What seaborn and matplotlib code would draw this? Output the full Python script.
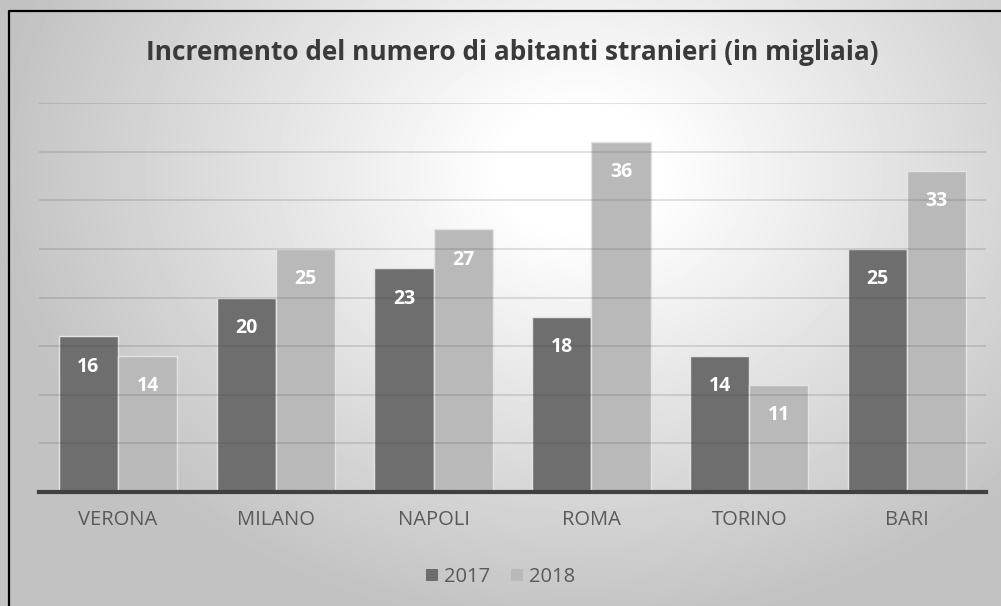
import numpy as np
import pandas as pd
import matplotlib
matplotlib.use("Agg")
import matplotlib.pyplot as plt
import seaborn as sns

cities = ["VERONA", "MILANO", "NAPOLI", "ROMA", "TORINO", "BARI"]
values_2017 = [16, 20, 23, 18, 14, 25]
values_2018 = [14, 25, 27, 36, 11, 33]
years = ["2017", "2018"]

df = pd.DataFrame({
    "city": cities * 2,
    "year": [years[0]] * len(cities) + [years[1]] * len(cities),
    "value": values_2017 + values_2018,
})

sns.set_theme(style="white")
plt.rcParams["font.family"] = ["Open Sans", "DejaVu Sans"]

fig = plt.figure(figsize=(10.01, 6.06), dpi=100)

# radial gradient background
bg = fig.add_axes([0, 0, 1, 1], zorder=-10)
yy, xx = np.mgrid[0:606, 0:1001]
d = np.sqrt(((xx - 580) / 640.0) ** 2 + ((yy - 170) / 500.0) ** 2)
shade = np.clip(1.0 - 0.30 * np.clip(d - 0.12, 0, None), 0.76, 1.0)
bg.imshow(shade, cmap="gray", vmin=0, vmax=1, aspect="auto", interpolation="bilinear")
bg.axis("off")

# frame line
fig.add_artist(plt.Line2D([9 / 1001, 9 / 1001, 1.0], [0.0, 1 - 11 / 606, 1 - 11 / 606],
                          transform=fig.transFigure, color="black", lw=1.6))

ax = fig.add_axes([39 / 1001, 1 - 492 / 606, (986 - 39) / 1001, (492 - 103) / 606])
ax.patch.set_alpha(0)
sns.barplot(data=df, x="city", y="value", hue="year", order=cities, hue_order=years,
            palette=["#6e6e6e", "#b9b9b9"], width=0.75, gap=0, edgecolor="#e4e4e4",
            linewidth=1.0, saturation=1, ax=ax, legend=True, zorder=2)

ax.set_ylim(0, 40)
ax.set_xlim(-0.5, len(cities) - 0.5)
for yv in range(5, 45, 5):
    ax.axhline(yv, color="#404040", alpha=0.2, lw=1.1, zorder=3)

for cont in ax.containers:
    ax.bar_label(cont, padding=-29, color="white", fontsize=14, fontweight="bold", zorder=4)

ax.set_xlabel("")
ax.set_ylabel("")
ax.set_yticks([])
ax.tick_params(axis="x", length=0, pad=13, labelsize=14.5, labelcolor="#595959")
for s in ["top", "right", "left"]:
    ax.spines[s].set_visible(False)
ax.spines["bottom"].set_color("#404040")
ax.spines["bottom"].set_linewidth(3)
ax.spines["bottom"].set_zorder(5)

handles, labels = ax.get_legend_handles_labels()
ax.get_legend().remove()
for h in handles:
    h.set_edgecolor("none")
fig.legend(handles, labels, loc="center", bbox_to_anchor=(0.5, 1 - 577 / 606), ncol=2,
           frameon=False, handlelength=0.6, handleheight=0.6, handletextpad=0.3,
           columnspacing=1.0, fontsize=14.5, labelcolor="#595959")

fig.text(0.512, 1 - 52 / 606, "Incremento del numero di abitanti stranieri (in migliaia)",
         ha="center", va="center", fontsize=18.9, fontweight="bold", color="#3a3a3a")

fig.savefig("out.png", dpi=100)
